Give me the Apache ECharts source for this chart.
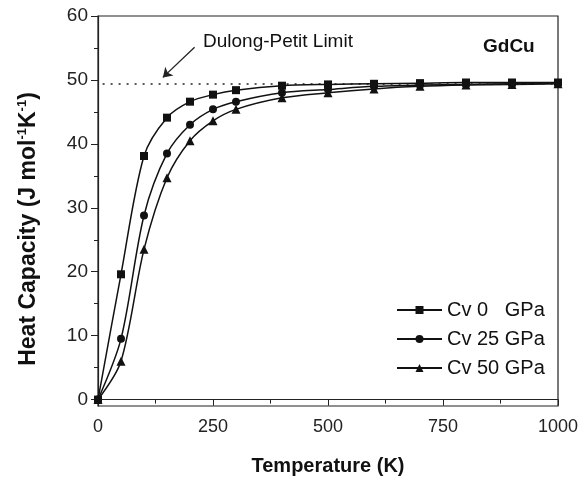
<!DOCTYPE html>
<html>
<head>
<meta charset="utf-8">
<script src="https://cdn.jsdelivr.net/npm/echarts@6/dist/echarts.min.js"></script>
<style>
  html, body { margin: 0; padding: 0; background: #fff; }
  #chart { width: 586px; height: 481px; }
</style>
</head>
<body>
<div id="chart"></div>
<script>
const temps = [0, 50, 100, 150, 200, 250, 300, 400, 500, 600, 700, 800, 900, 1000];
const cv0 = [0, 19.6, 38.1, 44.1, 46.6, 47.7, 48.4, 49.1, 49.3, 49.4, 49.5, 49.6, 49.6, 49.6];
const cv25 = [0, 9.5, 28.8, 38.5, 43.0, 45.4, 46.6, 48.0, 48.5, 49.0, 49.2, 49.3, 49.4, 49.5];
const cv50 = [0, 6.0, 23.5, 34.7, 40.5, 43.6, 45.4, 47.2, 48.0, 48.6, 49.0, 49.2, 49.3, 49.4];
const seriesNames = ['Cv 0   GPa', 'Cv 25 GPa', 'Cv 50 GPa'];
const yTicks = [0, 10, 20, 30, 40, 50, 60];
const yMinorTicks = [5, 15, 25, 35, 45, 55];
const dulongPetit = 49.4;
const arrowFrom = [210, 55.1];
const arrowTo = [141, 50.4];

const font = '"Liberation Sans", Arial, sans-serif';
const ink = '#111';

const myChart = echarts.init(document.getElementById('chart'));

const pairs = (ys) => temps.map((t, i) => [t, ys[i]]);

const lineSeries = (name, ys, symbol, size, z) => ({
    name,
    type: 'line',
    data: pairs(ys),
    smooth: 0.3,
    symbol,
    symbolSize: size,
    showSymbol: true,
    clip: false,
    z,
    lineStyle: { color: ink, width: 1.5 },
    itemStyle: { color: ink }
});

const s0 = lineSeries(seriesNames[0], cv0, 'rect', 8, 5);
s0.markLine = {
    silent: true,
    symbol: 'none',
    label: { show: false },
    lineStyle: { color: '#222', width: 1.5, type: [2, 6] },
    data: [[{ coord: [10, dulongPetit] }, { coord: [1000, dulongPetit] }]]
};
const s1 = lineSeries(seriesNames[1], cv25, 'circle', 8, 4);
s1.markLine = {
    silent: true,
    symbol: ['none', 'arrow'],
    symbolSize: 9,
    label: { show: false },
    lineStyle: { color: '#222', width: 1.3, type: 'solid' },
    data: [[{ coord: arrowFrom }, { coord: arrowTo }]]
};
const s2 = lineSeries(seriesNames[2], cv50, 'triangle', 9, 3);

const option = {
    animation: false,
    backgroundColor: '#fff',
    textStyle: { fontFamily: font, color: ink },
    grid: {
        left: 98, right: 28, top: 16, bottom: 74,
        show: true, borderColor: '#222', borderWidth: 1.2
    },
    legend: {
        orient: 'vertical',
        left: 391,
        top: 295,
        itemWidth: 45,
        itemHeight: 10,
        itemGap: 9,
        data: seriesNames,
        textStyle: { fontFamily: font, fontSize: 20, color: ink }
    },
    graphic: [
        {
            type: 'text', left: 203, top: 32,
            style: { text: 'Dulong-Petit Limit', font: '19px ' + font, fill: ink }
        },
        {
            type: 'text', left: 483, top: 37,
            style: { text: 'GdCu', font: 'bold 19px ' + font, fill: ink }
        }
    ],
    xAxis: {
        type: 'value',
        min: 0,
        max: 1000,
        interval: 250,
        name: 'Temperature (K)',
        nameLocation: 'middle',
        nameGap: 50,
        nameTextStyle: { fontFamily: font, fontSize: 20, fontWeight: 'bold', color: ink },
        axisLine: { show: true, lineStyle: { color: '#222', width: 1.2 } },
        axisTick: { show: true, length: 6, lineStyle: { color: '#222' } },
        minorTick: { show: true, splitNumber: 2, length: 4, lineStyle: { color: '#222' } },
        axisLabel: { fontFamily: font, fontSize: 18, color: '#222', margin: 12, formatter: (v) => String(v) },
        splitLine: { show: false }
    },
    yAxis: [
        {
            type: 'value',
            min: -1,
            max: 60,
            name: '{a|Heat Capacity (J mol}{s|-1}{a|K}{s|-1}{a|)}',
            nameLocation: 'middle',
            nameGap: 56,
            nameTextStyle: {
                padding: [0, 36, 0, 0],
                rich: {
                    a: { fontFamily: font, fontSize: 23, fontWeight: 'bold', color: ink, lineHeight: 26 },
                    s: { fontFamily: font, fontSize: 13, fontWeight: 'bold', color: ink, verticalAlign: 'top', lineHeight: 14 }
                }
            },
            axisLine: { show: true, lineStyle: { color: '#222', width: 1.2 } },
            axisTick: { show: true, length: 7, customValues: yTicks, lineStyle: { color: '#222' } },
            axisLabel: { fontFamily: font, fontSize: 19, color: '#222', margin: 10, customValues: yTicks },
            splitLine: { show: false }
        },
        {
            type: 'value',
            min: -1,
            max: 60,
            position: 'left',
            axisLine: { show: false },
            axisTick: { show: true, length: 4, customValues: yMinorTicks, lineStyle: { color: '#222' } },
            axisLabel: { show: false },
            splitLine: { show: false }
        }
    ],
    series: [s0, s1, s2]
};

myChart.setOption(option);
</script>
</body>
</html>
